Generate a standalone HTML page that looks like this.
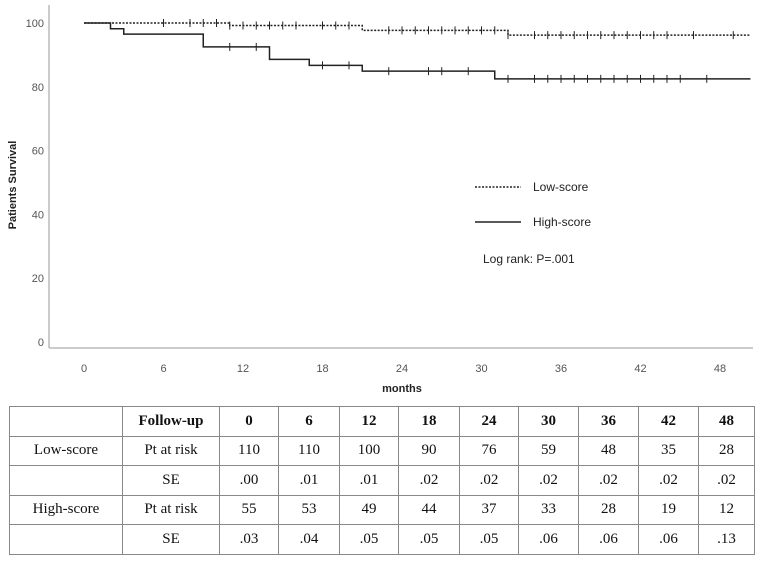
<!DOCTYPE html>
<html><head><meta charset="utf-8"><style>
body{margin:0;background:#fff;width:760px;height:561px;overflow:hidden;position:relative}
svg{position:absolute;left:0;top:0}
table{position:absolute;left:9px;top:406px;border-collapse:collapse;font-family:"Liberation Serif",serif;font-size:15px;color:#111}
td{border:1px solid #888;height:28.5px;padding:0;text-align:center}
tr.h td{font-weight:bold}
</style></head><body>
<svg width="760" height="400" font-family="Liberation Sans, sans-serif">
<g id="axes"></g><g id="series"></g>
<text x="16" y="185" transform="rotate(-90 16 185)" text-anchor="middle" font-size="11" font-weight="bold" fill="#222">Patients Survival</text>
<text x="402" y="392" text-anchor="middle" font-size="11" font-weight="bold" fill="#222">months</text>
<g>
<line x1="475" y1="187" x2="521" y2="187" stroke="#222" stroke-width="1.5" stroke-dasharray="2,1.5"/>
<text x="533" y="191" font-size="12" fill="#222">Low-score</text>
<line x1="475" y1="222" x2="521" y2="222" stroke="#222" stroke-width="1.5"/>
<text x="533" y="226" font-size="12" fill="#222">High-score</text>
<text x="483" y="263" font-size="12" fill="#222">Log rank: P=.001</text>
</g>
</svg>
<table>
<colgroup><col style="width:113px"><col style="width:97px"><col style="width:59px"><col style="width:61px"><col style="width:59px"><col style="width:61px"><col style="width:59px"><col style="width:60px"><col style="width:60px"><col style="width:60px"><col style="width:56px"></colgroup>
<tr class="h"><td></td><td>Follow-up</td><td>0</td><td>6</td><td>12</td><td>18</td><td>24</td><td>30</td><td>36</td><td>42</td><td>48</td></tr>
<tr><td>Low-score</td><td>Pt at risk</td><td>110</td><td>110</td><td>100</td><td>90</td><td>76</td><td>59</td><td>48</td><td>35</td><td>28</td></tr>
<tr><td></td><td>SE</td><td>.00</td><td>.01</td><td>.01</td><td>.02</td><td>.02</td><td>.02</td><td>.02</td><td>.02</td><td>.02</td></tr>
<tr><td>High-score</td><td>Pt at risk</td><td>55</td><td>53</td><td>49</td><td>44</td><td>37</td><td>33</td><td>28</td><td>19</td><td>12</td></tr>
<tr><td></td><td>SE</td><td>.03</td><td>.04</td><td>.05</td><td>.05</td><td>.05</td><td>.06</td><td>.06</td><td>.06</td><td>.13</td></tr>
</table>
<script>
const xTicks=[0,6,12,18,24,30,36,42,48];
const yTicks=[0,20,40,60,80,100];
const lowTimes=[0,11,21,32];
const lowSurv=[100,99.2,97.7,96.2];
const lowCensor=[6,8,9,10,11,12,13,14,15,16,18,19,20,23,24,25,26,27,28,29,30,31,32,34,35,36,37,38,39,40,41,42,43,44,46,49];
const highTimes=[0,2,3,9,14,17,21,31];
const highSurv=[100,98.2,96.5,92.5,88.6,86.7,84.9,82.5];
const highCensor=[11,13,18,20,23,26,27,29,32,34,35,36,37,38,39,40,41,42,43,44,45,47];
const xMax=50.3;
const NS='http://www.w3.org/2000/svg';
const X=t=>84+13.25*t, Y=v=>342-3.19*v;
function mk(tag,attrs,parent){const e=document.createElementNS(NS,tag);for(const k in attrs)e.setAttribute(k,attrs[k]);parent.appendChild(e);return e;}
const ax=document.getElementById('axes'), se=document.getElementById('series');
const yl=mk('line',{x1:49,y1:5,x2:49,y2:348,stroke:'#bbb','stroke-width':1.5},ax);


const xl=mk('line',{x1:49,y1:348,x2:753,y2:348,stroke:'#bbb','stroke-width':1.5},ax);


xTicks.forEach(t=>{const e=mk('text',{x:X(t),y:372,'text-anchor':'middle','font-size':11,fill:'#555'},ax);e.textContent=t;

});
yTicks.forEach(v=>{const e=mk('text',{x:44,y:Y(v)+4,'text-anchor':'end','font-size':11,fill:'#555'},ax);e.textContent=v;

});
function stepAt(times,surv,t){let s=surv[0];for(let i=0;i<times.length;i++)if(times[i]<=t)s=surv[i];return s;}
function draw(times,surv,censor,dash,name){
 let d='M'+X(times[0])+','+Y(surv[0]);
 for(let i=1;i<times.length;i++){d+=' H'+X(times[i])+' V'+Y(surv[i]);}
 d+=' H'+X(xMax);
 const p=mk('path',{d:d,fill:'none',stroke:'#222','stroke-width':1.5},se);
 if(dash)p.setAttribute('stroke-dasharray','2,1.5');
 
 
 censor.forEach(t=>{const y=Y(stepAt(times,surv,t)),x=X(t);
  const c=mk('path',{d:'M'+x+','+(y-4)+' V'+(y+4),stroke:'#222','stroke-width':1},se);
  
  });
}
draw(lowTimes,lowSurv,lowCensor,true,'low-score');
draw(highTimes,highSurv,highCensor,false,'high-score');
</script>
</body></html>
